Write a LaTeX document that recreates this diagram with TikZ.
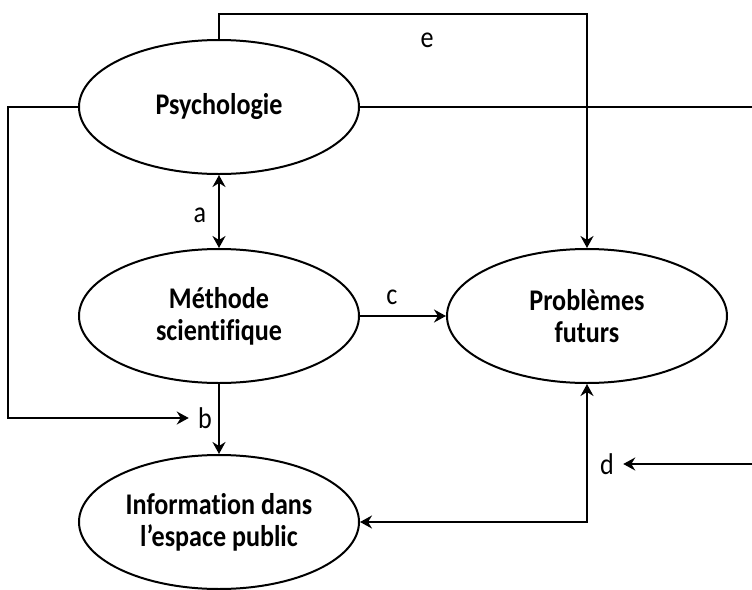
\documentclass[tikz,border=0pt]{standalone}
\usepackage{fontspec}
\setmainfont{Carlito}[FakeStretch=0.87,Ligatures={NoCommon}]
\usetikzlibrary{shapes.geometric,arrows.meta}
\tikzset{
  topic/.style={ellipse,draw,line width=1pt,minimum width=140pt,minimum height=67pt,
    inner sep=0pt,align=center,font=\fontsize{15}{16}\selectfont\bfseries},
  lbl/.style={inner sep=4.5pt,font=\fontsize{15}{16}\selectfont},
  link/.style={line width=1pt,>={Stealth[length=6pt,width=6.5pt,inset=2pt]}}
}
\begin{document}
\begin{tikzpicture}[x=0.5pt,y=-0.5pt]
            \path[use as bounding box,clip] (0,0) rectangle (752,590);
            \node[topic] (psy) at (219,107) {Psychologie};
            \node[topic] (meth) at (219,316) {Méthode\\scientifique};
            \node[topic] (prob) at (587,316) {Problèmes\\futurs};
            \node[topic] (info) at (219,522) {Information dans\\l’espace public};
            \node[lbl] (la) at (200,215) {a};
            \node[lbl] (lb) at (205,418) {b};
            \node[lbl] (lc) at (392,297) {c};
            \node[lbl] (ld) at (607,464) {d};
            \node[lbl] (le) at (427,40) {e};
            \coordinate (etop) at (400,14);
            \coordinate (lft) at (8,107);
            \coordinate (rgt) at (790,107);
            \draw[link,<->] (psy.south) -- (meth.north);
            \draw[link,->] (meth.east) -- (prob.west);
            \draw[link,->] (meth.south) -- (info.north);
            \draw[link,<->] (info.east) -| (prob.south);
            \draw[link,->] (psy.north) |- (etop) -| (prob.north);
            \draw[link,->] (psy.west) -- (lft) |- (lb.west);
            \draw[link,->] (psy.east) -- (rgt) |- (ld.east);
        \end{tikzpicture}
\end{document}
